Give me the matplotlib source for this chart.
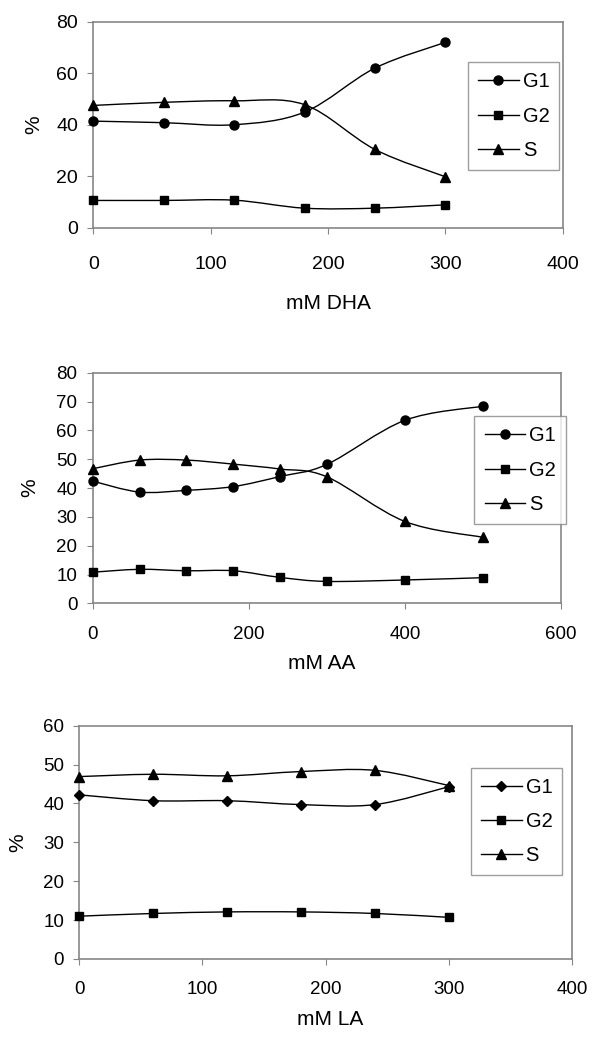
import matplotlib
matplotlib.use("Agg")
import matplotlib.pyplot as plt
from matplotlib.path import Path
from matplotlib.patches import PathPatch
from matplotlib.lines import Line2D

plt.rcParams['font.family'] = ['Liberation Sans', 'DejaVu Sans']

# DHA panel
dha_x = [0, 60, 120, 180, 240, 300]
dha_g1 = [41.4, 40.8, 40.0, 44.9, 62.0, 72.0]
dha_g2 = [10.6, 10.6, 10.7, 7.6, 7.6, 8.9]
dha_s = [47.5, 48.7, 49.3, 47.8, 30.4, 19.8]

# AA panel
aa_x = [0, 60, 120, 180, 240, 300, 400, 500]
aa_g1 = [42.4, 38.6, 39.2, 40.5, 44.0, 48.2, 63.5, 68.4]
aa_g2 = [10.8, 11.8, 11.3, 11.3, 9.0, 7.6, 8.1, 8.9]
aa_s = [46.7, 49.7, 49.7, 48.3, 46.6, 43.9, 28.4, 22.9]

# LA panel
la_x = [0, 60, 120, 180, 240, 300]
la_g1 = [42.2, 40.7, 40.7, 39.7, 39.7, 44.3]
la_g2 = [11.0, 11.7, 12.1, 12.1, 11.7, 10.7]
la_s = [46.9, 47.5, 47.1, 48.2, 48.5, 44.6]

series_names = ['G1', 'G2', 'S']
GRAY = '#868686'


def smooth_path(x, y):
    """Excel-like smoothed line: Catmull-Rom segments as cubic Beziers."""
    n = len(x)
    verts = [(x[0], y[0])]
    codes = [Path.MOVETO]
    for i in range(n - 1):
        i0 = max(i - 1, 0)
        i3 = min(i + 2, n - 1)
        c1 = (x[i] + (x[i + 1] - x[i0]) / 6.0, y[i] + (y[i + 1] - y[i0]) / 6.0)
        c2 = (x[i + 1] - (x[i3] - x[i]) / 6.0, y[i + 1] - (y[i3] - y[i]) / 6.0)
        verts += [c1, c2, (x[i + 1], y[i + 1])]
        codes += [Path.CURVE4] * 3
    return Path(verts, codes)


def panel(fig, rect, x, ys, markers, xmax, xstep, ymax, ystep, xlabel,
          fsize, xpad, xlab_pos, ylab_pos, leg_rect):
    ax = fig.add_axes(rect)
    msizes = {'o': 6.5, 's': 6, '^': 7, 'D': 5.5}
    for y, m in zip(ys, markers):
        ax.add_patch(PathPatch(smooth_path(x, y), facecolor='none',
                               edgecolor='black', lw=1.0))
        ax.plot(x, y, ls='none', marker=m, color='black',
                markersize=msizes[m], clip_on=False, zorder=3)
    ax.set_xlim(0, xmax)
    ax.set_ylim(0, ymax)
    ax.set_xticks(range(0, xmax + 1, xstep))
    ax.set_yticks(range(0, ymax + 1, ystep))
    for sp in ax.spines.values():
        sp.set_color(GRAY)
        sp.set_linewidth(1.2)
    ax.tick_params(axis='x', direction='out', length=4, color=GRAY,
                   labelsize=fsize, pad=xpad)
    ax.tick_params(axis='y', direction='out', length=4, color=GRAY,
                   labelsize=fsize, pad=7)
    ax.set_xlabel(xlabel, fontsize=15, va='center')
    ax.xaxis.set_label_coords(*xlab_pos)
    ax.set_ylabel('%', fontsize=15, va='center')
    ax.yaxis.set_label_coords(*ylab_pos)

    handles = [Line2D([], [], color='black', lw=1.0, marker=m,
                      markersize=msizes[m]) for m in markers]
    leg = ax.legend(handles, series_names, loc='center',
                    bbox_to_anchor=leg_rect, fontsize=14.5, frameon=True,
                    fancybox=False, edgecolor=GRAY, borderpad=0.5,
                    labelspacing=0.75, handlelength=2.0, handletextpad=0.2,
                    borderaxespad=0)
    leg.get_frame().set_linewidth(1.0)
    return ax


fig = plt.figure(figsize=(6.02, 10.5), dpi=100)

panel(fig, [0.155, 0.7831, 0.7797, 0.1962], dha_x, [dha_g1, dha_g2, dha_s],
      ['o', 's', '^'], 400, 100, 80, 20, 'mM DHA', 14, 16,
      (0.5, -0.37), (-0.126, 0.5), (0.811, 0.275, 0.17, 0.534))

panel(fig, [0.154, 0.4254, 0.7779, 0.2196], aa_x, [aa_g1, aa_g2, aa_s],
      ['o', 's', '^'], 600, 200, 80, 10, 'mM AA', 13.5, 12,
      (0.49, -0.26), (-0.134, 0.5), (0.827, 0.374, 0.171, 0.408))

panel(fig, [0.1317, 0.0867, 0.8185, 0.2222], la_x, [la_g1, la_g2, la_s],
      ['D', 's', '^'], 400, 100, 60, 10, 'mM LA', 13.5, 12,
      (0.509, -0.261), (-0.124, 0.5), (0.807, 0.386, 0.162, 0.407))

fig.savefig('out.png', dpi=100)
